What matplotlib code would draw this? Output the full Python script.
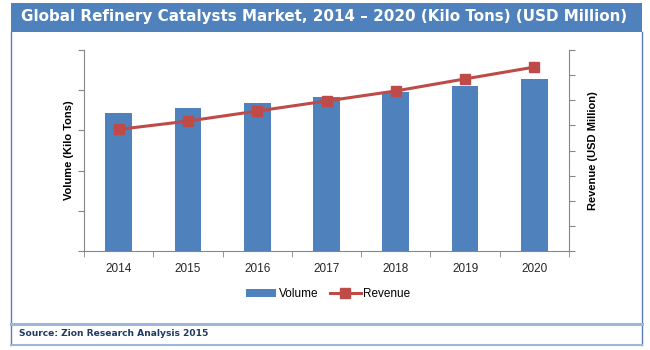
import matplotlib
matplotlib.use("Agg")
import matplotlib.pyplot as plt
from matplotlib.patches import Rectangle
from matplotlib.lines import Line2D
import numpy as np

# ---------------------------------------------------------------------------
# Data (axes carry no value labels)
# ---------------------------------------------------------------------------
years   = ["2014", "2015", "2016", "2017", "2018", "2019", "2020"]
volume  = [3.44, 3.56, 3.68, 3.83, 3.96, 4.10, 4.28]   # left axis, 0-5
revenue = [4.84, 5.17, 5.57, 5.97, 6.37, 6.85, 7.32]   # right axis, 0-8

BLUE  = "#4F81BD"
RED   = "#BE4B48"
GRID  = "#868686"
W, H  = 650, 350


def fx(px):
    return px / W


def fy(py):
    return 1 - py / H


fig = plt.figure(figsize=(6.5, 3.5), dpi=100)

# header band + frame
fig.add_artist(Rectangle((fx(11), fy(32)), fx(631), 29 / H, transform=fig.transFigure,
                         facecolor=BLUE, edgecolor="none"))
fig.text(fx(324), fy(17), "Global Refinery Catalysts Market, 2014 \u2013 2020 (Kilo Tons) (USD Million)",
         color="white", fontsize=10.9, fontweight="bold", ha="center", va="center",
         family="DejaVu Sans")
for x in (11, 642):
    fig.add_artist(Line2D([fx(x), fx(x)], [fy(32), fy(345)], transform=fig.transFigure,
                          color="#5A7DB3", lw=1))
fig.add_artist(Line2D([fx(11), fx(642)], [fy(324), fy(324)], transform=fig.transFigure,
                      color="#9DB7D9", lw=2.2))
fig.add_artist(Line2D([fx(11), fx(642)], [fy(345), fy(345)], transform=fig.transFigure,
                      color="#9DB7D9", lw=1.5))
fig.text(fx(19), fy(334), "Source: Zion Research Analysis 2015", color="#1F3A64",
         fontsize=6.6, fontweight="bold", ha="left", va="center", family="DejaVu Sans")

# ---------------------------------------------------------------------------
# Chart
# ---------------------------------------------------------------------------
ax = fig.add_axes([fx(84), fy(251), fx(569 - 84), (251 - 50) / H])
x = np.arange(len(years))
ax.bar(x, volume, width=0.385, color=BLUE, label="Volume", zorder=2)
ax.set_xlim(-0.5, len(years) - 0.5)
ax.set_ylim(0, 5)
ax.set_yticks(np.arange(0, 6, 1))
ax.set_yticklabels([])
ax.set_xticks(x)
ax.set_xticklabels(years, fontsize=8.5, color="#262626", family="Liberation Sans")
ax.set_xticks(np.arange(-0.5, len(years)), minor=True)
ax.tick_params(axis="x", which="major", length=0, pad=9)
ax.tick_params(axis="x", which="minor", length=4, color=GRID, direction="out")
ax.tick_params(axis="y", length=4, color=GRID, direction="out")
for s in ("top", "right"):
    ax.spines[s].set_visible(False)
for s in ("left", "bottom"):
    ax.spines[s].set_color(GRID)
ax.set_ylabel("Volume (Kilo Tons)", fontsize=8, fontweight="bold", labelpad=0,
              family="Liberation Sans")

ax2 = ax.twinx()
ax2.plot(x, revenue, color=RED, lw=2.2, marker="s", markersize=7, label="Revenue", zorder=3)
ax2.set_ylim(0, 8)
ax2.set_yticks(np.arange(0, 9, 1))
ax2.set_yticklabels([])
ax2.tick_params(axis="y", length=4, color=GRID, direction="out")
for s in ("top", "left", "bottom"):
    ax2.spines[s].set_visible(False)
ax2.spines["right"].set_color(GRID)
ax2.set_ylabel("Revenue (USD Million)", fontsize=8, fontweight="bold", labelpad=6,
               family="Liberation Sans")

h1, l1 = ax.get_legend_handles_labels()
h2, l2 = ax2.get_legend_handles_labels()
fig.legend(h1 + h2, l1 + l2, loc="center", bbox_to_anchor=(fx(328), fy(294)), ncol=2,
           frameon=False, handlelength=2.6, handleheight=0.6, columnspacing=1.0,
           handletextpad=0.2, prop={"family": "Liberation Sans", "size": 8.5})

fig.savefig("out.png", dpi=100)
